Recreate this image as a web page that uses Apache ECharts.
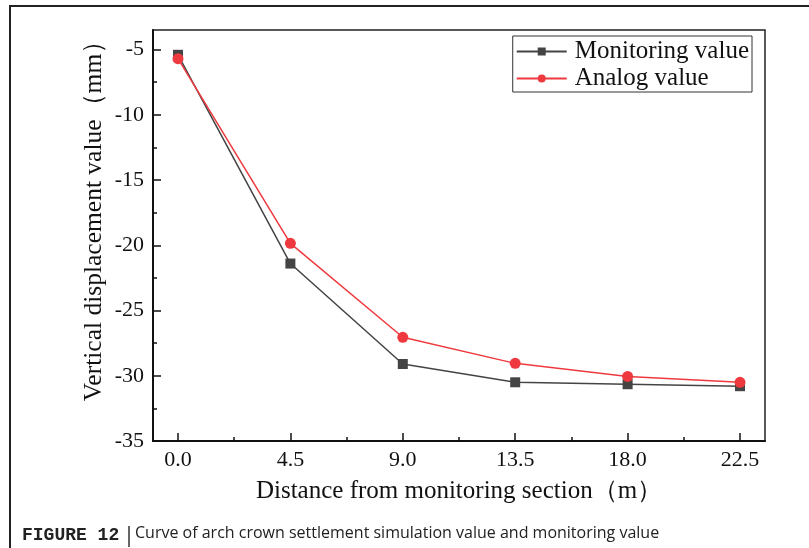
<!DOCTYPE html>
<html><head><meta charset="utf-8">
<script src="https://cdn.jsdelivr.net/npm/echarts@6/dist/echarts.min.js"></script>
<style>html,body{margin:0;padding:0;background:#fff}#c{width:809px;height:548px}</style>
</head><body><div id="c"></div>
<script>
const distances = [0, 4.5, 9, 13.5, 18, 22.5];
const monitoring = [-5.4, -21.4, -29.1, -30.5, -30.65, -30.8];
const analog = [-5.7, -19.85, -27.05, -29.05, -30.05, -30.5];
const xMajor = [0, 4.5, 9, 13.5, 18, 22.5];
const xMinor = [2.25, 6.75, 11.25, 15.75, 20.25];
const yMajor = [-35, -30, -25, -20, -15, -10, -5];
const yMinor = [-32.5, -27.5, -22.5, -17.5, -12.5, -7.5];
const seriesNames = ['Monitoring value', 'Analog value'];
const xTitle = 'Distance from monitoring section（m）';
const yTitle = 'Vertical displacement value（mm）';
const caption = 'Curve of arch crown settlement simulation value and monitoring value';

const serif = '"Liberation Serif", "Times New Roman", serif';
const chart = echarts.init(document.getElementById('c'));
const axisLine = {show: true, onZero: false, lineStyle: {color: '#111', width: 2}};
chart.setOption({
  animation: false,
  grid: {left: 153, top: 30, right: 44, bottom: 107, show: true, borderColor: '#222', borderWidth: 1.5, containLabel: false},
  xAxis: [{
    type: 'value', min: -1, max: 23.5, position: 'bottom',
    axisLine: axisLine,
    axisTick: {show: true, inside: true, length: 8, lineStyle: {color: '#111', width: 1.5}, customValues: xMajor},
    axisLabel: {show: true, customValues: xMajor, formatter: v => v.toFixed(1), fontFamily: serif, fontSize: 22, color: '#111', margin: 8},
    splitLine: {show: false},
    name: xTitle, nameLocation: 'middle', nameGap: 38,
    nameTextStyle: {fontFamily: serif, fontSize: 25, color: '#111'}
  }, {
    type: 'value', min: -1, max: 23.5, position: 'bottom',
    axisLine: {show: false, onZero: false},
    axisTick: {show: true, inside: true, length: 4, lineStyle: {color: '#111', width: 1.5}, customValues: xMinor},
    axisLabel: {show: false}, splitLine: {show: false}
  }],
  yAxis: [{
    type: 'value', min: -35, max: -3.5, position: 'left',
    axisLine: axisLine,
    axisTick: {show: true, inside: true, length: 8, lineStyle: {color: '#111', width: 1.5}, customValues: yMajor},
    axisLabel: {show: true, customValues: yMajor, fontFamily: serif, fontSize: 22, color: '#111', margin: 9},
    splitLine: {show: false},
    name: yTitle, nameLocation: 'middle', nameGap: 46, nameMoveOverlap: false,
    nameTextStyle: {fontFamily: serif, fontSize: 25.5, color: '#111', padding: [0, 0, 0, 42]}
  }, {
    type: 'value', min: -35, max: -3.5, position: 'left',
    axisLine: {show: false, onZero: false},
    axisTick: {show: true, inside: true, length: 4, lineStyle: {color: '#111', width: 1.5}, customValues: yMinor},
    axisLabel: {show: false}, splitLine: {show: false}
  }],
  legend: {
    orient: 'vertical', right: 57, top: 36,
    borderColor: '#333', borderWidth: 1, borderRadius: 0,
    padding: [3, 3, 1, 3], itemGap: 2, itemWidth: 50, itemHeight: 10,
    textStyle: {fontFamily: serif, fontSize: 25, color: '#111', padding: [0, 0, 0, 3]},
    data: seriesNames
  },
  series: [{
    name: seriesNames[0], type: 'line',
    data: distances.map((d, i) => [d, monitoring[i]]),
    symbol: 'rect', symbolSize: 10,
    itemStyle: {color: '#444'}, lineStyle: {color: '#444', width: 1.5}
  }, {
    name: seriesNames[1], type: 'line',
    data: distances.map((d, i) => [d, analog[i]]),
    symbol: 'circle', symbolSize: 11,
    itemStyle: {color: '#ee3a3e'}, lineStyle: {color: '#ee3a3e', width: 1.5}
  }],
  graphic: [
    {type: 'rect', shape: {x: 10, y: 6, width: 820, height: 560}, style: {fill: 'none', stroke: '#222', lineWidth: 2}, silent: true},
    {type: 'text', left: 22, top: 526, style: {text: 'FIGURE 12', font: 'bold 18px "Liberation Mono", monospace', fill: '#222'}},
    {type: 'line', shape: {x1: 129, y1: 526, x2: 129, y2: 547}, style: {stroke: '#333', lineWidth: 1.5}},
    {type: 'text', left: 135, top: 525, style: {text: caption, font: '16px "Open Sans", sans-serif', fill: '#222'}}
  ]
});
</script></body></html>
